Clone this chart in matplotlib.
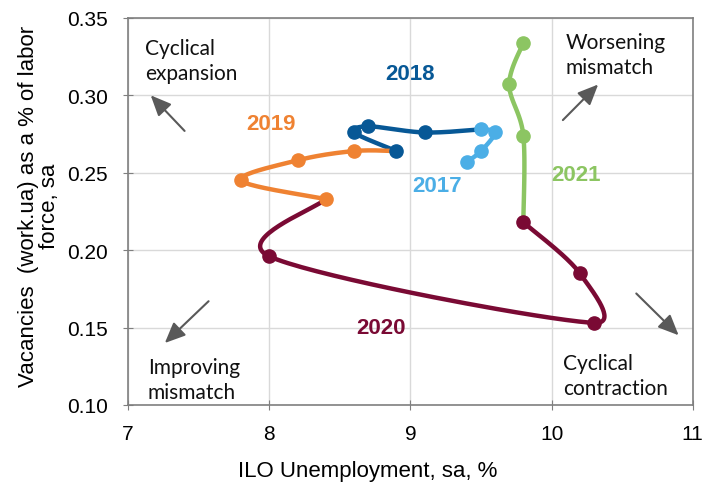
import numpy as np
import matplotlib
matplotlib.use("Agg")
import matplotlib.pyplot as plt

plt.rcParams['font.family'] = ['Liberation Sans', 'DejaVu Sans']

# Quarterly points (ILO unemployment, vacancies share)
years = ["2017", "2018", "2019", "2020", "2021"]
unemp_2017 = [9.4, 9.5, 9.6, 9.5]
vac_2017 = [0.257, 0.264, 0.276, 0.278]
unemp_2018 = [9.1, 8.7, 8.6, 8.9]
vac_2018 = [0.276, 0.280, 0.276, 0.264]
unemp_2019 = [8.6, 8.2, 7.8, 8.4]
vac_2019 = [0.264, 0.258, 0.245, 0.233]
unemp_2020 = [8.0, 10.3, 10.2, 9.8]
vac_2020 = [0.196, 0.153, 0.185, 0.218]
unemp_2021 = [9.8, 9.7, 9.8]
vac_2021 = [0.274, 0.307, 0.334]

colors = ["#4BAEE6", "#075896", "#EF8232", "#7A0A34", "#8CC562"]


def smooth(ax, xs, ys, n=40):
    # Excel-like smoothed line: cubic Bezier in screen space,
    # handles from neighbours, capped by half the segment length
    p = ax.transData.transform(np.column_stack([xs, ys]))
    m = len(p)
    tan = np.zeros_like(p)
    for i in range(m):
        a = p[max(i - 1, 0)]
        b = p[min(i + 1, m - 1)]
        tan[i] = (b - a) / 6.0
    out = []
    t = np.linspace(0, 1, n)[:, None]
    for i in range(m - 1):
        p1, p2 = p[i], p[i + 1]
        seg = np.linalg.norm(p2 - p1)
        h1, h2 = tan[i].copy(), tan[i + 1].copy()
        for h in (h1, h2):
            L = np.linalg.norm(h)
            if L > 0.5 * seg:
                h *= 0.5 * seg / L
        c1, c2 = p1 + h1, p2 - h2
        out.append((1 - t) ** 3 * p1 + 3 * (1 - t) ** 2 * t * c1
                   + 3 * (1 - t) * t ** 2 * c2 + t ** 3 * p2)
    out = ax.transData.inverted().transform(np.vstack(out))
    return out[:, 0], out[:, 1]


fig, ax = plt.subplots(figsize=(7.04, 4.85), dpi=100)
fig.subplots_adjust(left=0.182, right=0.984, top=0.961, bottom=0.163)
ax.set_xlim(7, 11)
ax.set_ylim(0.10, 0.35)

series = [(unemp_2017, vac_2017), (unemp_2018, vac_2018), (unemp_2019, vac_2019),
          (unemp_2020, vac_2020), (unemp_2021, vac_2021)]

prev = None
for (xs, ys), c in zip(series, colors):
    lx, ly = list(xs), list(ys)
    if prev is not None:
        lx = [prev[0]] + lx
        ly = [prev[1]] + ly
    sx, sy = smooth(ax, lx, ly)
    ax.plot(sx, sy, color=c, lw=3.2, solid_capstyle='round', zorder=2)
    ax.plot(xs, ys, 'o', color=c, ms=9.5, zorder=3)
    prev = (xs[-1], ys[-1])

# Year labels
label_pos = [(9.19, 0.242), (9.0, 0.314), (8.01, 0.282), (8.79, 0.150), (10.17, 0.249)]
for yr, (lx, ly), c in zip(years, label_pos, colors):
    ax.text(lx, ly, yr, color=c, fontsize=16, fontweight='bold', ha='center', va='center')

# Quadrant notes (y = baseline of the second line)
notes = [("Cyclical\nexpansion", 7.12, 0.3106), ("Worsening\nmismatch", 10.10, 0.3145),
         ("Improving\nmismatch", 7.14, 0.1045), ("Cyclical\ncontraction", 10.08, 0.107)]
for txt, nx, ny in notes:
    ax.text(nx, ny, txt, fontsize=15, family=['Lato', 'DejaVu Sans'],
            ha='left', va='baseline', linespacing=1.3, color='#111111')

arrows = [((7.40, 0.277), (7.16, 0.300)), ((10.08, 0.284), (10.33, 0.307)),
          ((7.57, 0.167), (7.26, 0.140)), ((10.60, 0.172), (10.90, 0.145))]
for tail, head in arrows:
    ax.annotate("", xy=head, xytext=tail,
                arrowprops=dict(arrowstyle="-|>,head_length=1.25,head_width=0.55",
                                color="#595959", lw=1.5, shrinkA=0, shrinkB=0))

ax.set_xticks([7, 8, 9, 10, 11])
yt = [0.10, 0.15, 0.20, 0.25, 0.30, 0.35]
ax.set_yticks(yt)
ax.set_yticklabels([f"{v:.2f}" for v in yt])
ax.tick_params(labelsize=15, direction='inout', length=7, color="#7F7F7F")
ax.tick_params(axis='x', pad=10)
ax.tick_params(axis='y', pad=11)
ax.grid(True, color="#D9D9D9", lw=1)
ax.set_axisbelow(True)
for s in ax.spines.values():
    s.set_color("#7F7F7F")
    s.set_linewidth(1.2)

ax.set_xlabel("ILO Unemployment, sa, %", fontsize=16)
ax.xaxis.set_label_coords(0.424, -0.1705)
ax.xaxis.label.set_verticalalignment('center')
ax.set_ylabel("Vacancies  (work.ua) as a % of labor\nforce, sa", fontsize=16,
              linespacing=1.05)
ax.yaxis.set_label_coords(-0.158, 0.515)
ax.yaxis.label.set_verticalalignment('center')

fig.savefig("out.png", dpi=100)
